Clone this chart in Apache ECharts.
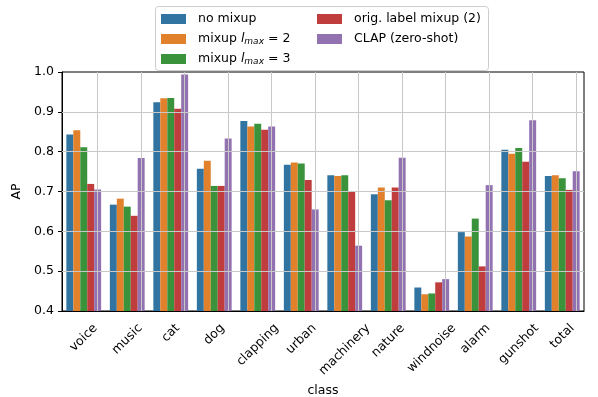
<!DOCTYPE html>
<html>
<head>
<meta charset="utf-8">
<script src="https://cdn.jsdelivr.net/npm/echarts@6/dist/echarts.min.js"></script>
<style>
  html, body { margin: 0; padding: 0; background: #fff; }
  #container { width: 598px; height: 397px; }
</style>
</head>
<body>
<div id="container"></div>
<script>
var categories = ['voice', 'music', 'cat', 'dog', 'clapping', 'urban', 'machinery',
    'nature', 'windnoise', 'alarm', 'gunshot', 'total'];
var seriesNames = ['no mixup', 'mixup lmax=2', 'mixup lmax=3', 'orig. label mixup (2)', 'CLAP (zero-shot)'];

var noMixup   = [0.843, 0.667, 0.924, 0.757, 0.877, 0.767, 0.741, 0.693, 0.459, 0.598, 0.805, 0.739];
var mixupL2   = [0.854, 0.682, 0.934, 0.777, 0.863, 0.773, 0.739, 0.710, 0.442, 0.587, 0.795, 0.741];
var mixupL3   = [0.811, 0.662, 0.935, 0.714, 0.870, 0.770, 0.741, 0.678, 0.444, 0.632, 0.809, 0.733];
var origLabel = [0.719, 0.639, 0.908, 0.714, 0.855, 0.729, 0.699, 0.710, 0.472, 0.512, 0.775, 0.704];
var clap      = [0.705, 0.784, 0.994, 0.833, 0.863, 0.655, 0.564, 0.785, 0.480, 0.716, 0.879, 0.751];

var yTicks = [0.4, 0.5, 0.6, 0.7, 0.8, 0.9, 1.0];
var colors = ['#3274a1', '#e1812c', '#3a923a', '#c03d3e', '#9372b2'];

var dom = document.getElementById('container');
var myChart = echarts.init(dom);

var font = 'DejaVu Sans';
var fs = 12.5;

function legendName(name) {
    if (name == 'mixup lmax=2') return 'mixup {it|l}{sub|max}{n| = 2}';
    if (name == 'mixup lmax=3') return 'mixup {it|l}{sub|max}{n| = 3}';
    return name;
}

var legendText = {
    fontFamily: font,
    fontSize: fs,
    color: '#000',
    lineHeight: 14,
    padding: [0, 0, 0, 7],
    rich: {
        it: { fontFamily: font, fontSize: fs, fontStyle: 'italic', color: '#000', lineHeight: 14 },
        sub: { fontFamily: font, fontSize: 9, fontStyle: 'italic', color: '#000', verticalAlign: 'bottom', lineHeight: 14 },
        n: { fontFamily: font, fontSize: fs, color: '#000', lineHeight: 14 }
    }
};

// matplotlib centres the rotated label box under the tick, so push each label down by half its height
var ctx = document.createElement('canvas').getContext('2d');
ctx.font = fs + 'px "' + font + '"';
var labelRich = {};
categories.forEach(function (c, i) {
    var w = ctx.measureText(c).width;
    var H = (w + fs * 1.17) * Math.SQRT1_2;
    var d = 10 + H / 2;
    var s = d * Math.SQRT1_2;
    labelRich['l' + i] = {
        fontFamily: font, fontSize: fs, color: '#000',
        padding: [2 * s, 2 * s, 0, 0]
    };
});

// grid lines drawn over the bars like matplotlib does
var gridLines = categories.map(function (c) { return { xAxis: c }; })
    .concat(yTicks.slice(1, -1).map(function (v) { return { yAxis: v }; }));

var allData = [noMixup, mixupL2, mixupL3, origLabel, clap];
var series = allData.map(function (d, i) {
    var s = {
        name: seriesNames[i],
        type: 'bar',
        data: d,
        barGap: 0,
        barCategoryGap: '20%',
        itemStyle: { color: colors[i] },
        emphasis: { disabled: true }
    };
    if (i == allData.length - 1) {
        s.markLine = {
            silent: true,
            symbol: ['none', 'none'],
            label: { show: false },
            lineStyle: { color: '#c8c8c8', type: 'solid', width: 1 },
            data: gridLines,
            animation: false
        };
    }
    return s;
});

var option = {
    animation: false,
    color: colors,
    textStyle: { fontFamily: font },
    grid: {
        left: 62, right: 14, top: 72, bottom: 86,
        containLabel: false,
        outerBoundsMode: 'none',
        show: true, borderColor: '#000', borderWidth: 1, backgroundColor: 'transparent'
    },
    legend: [{
        data: seriesNames.slice(0, 3),
        orient: 'vertical',
        left: 156, top: 7,
        itemWidth: 25, itemHeight: 10, itemGap: 6,
        icon: 'rect',
        formatter: legendName,
        textStyle: legendText
    }, {
        data: seriesNames.slice(3),
        orient: 'vertical',
        left: 312, top: 7,
        itemWidth: 25, itemHeight: 10, itemGap: 6,
        icon: 'rect',
        formatter: legendName,
        textStyle: legendText
    }],
    graphic: [{
        type: 'rect',
        left: 155, top: 6, z: 3,
        shape: { width: 333, height: 64, r: 3 },
        style: { fill: 'rgba(255,255,255,0.85)', stroke: '#cccccc', lineWidth: 1 }
    }],
    xAxis: {
        type: 'category',
        data: categories,
        name: 'class',
        nameLocation: 'middle',
        nameGap: 65,
        nameTextStyle: { fontFamily: font, fontSize: fs, color: '#000' },
        axisLine: { lineStyle: { color: '#000' } },
        axisTick: { alignWithLabel: true, length: 4, lineStyle: { color: '#000' } },
        axisLabel: {
            rotate: 45, margin: 0, interval: 0,
            align: 'center', verticalAlign: 'middle',
            fontFamily: font, fontSize: fs, color: '#000',
            formatter: function (v, idx) { return '{l' + idx + '|' + v + '}'; },
            rich: labelRich
        },
        splitLine: { show: false }
    },
    yAxis: {
        type: 'value',
        min: 0.4, max: 1.0, interval: 0.1,
        name: 'AP',
        nameLocation: 'middle',
        nameGap: 34,
        nameTextStyle: { fontFamily: font, fontSize: fs, color: '#000' },
        axisLine: { show: true, lineStyle: { color: '#000' } },
        axisTick: { show: true, length: 4, lineStyle: { color: '#000' } },
        axisLabel: {
            margin: 8, fontFamily: font, fontSize: fs, color: '#000',
            formatter: function (v) { return v.toFixed(1); }
        },
        splitLine: { show: false }
    },
    series: series
};

myChart.setOption(option);
</script>
</body>
</html>
